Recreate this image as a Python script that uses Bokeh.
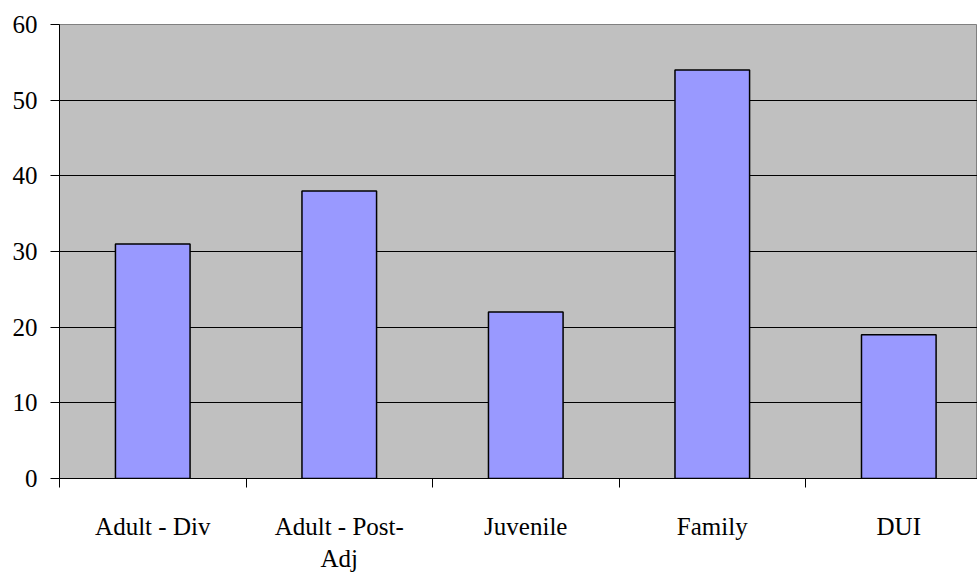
from bokeh.plotting import figure
from bokeh.models import Range1d, FixedTicker, ColumnDataSource
from bokeh.embed import file_html
from bokeh.resources import INLINE

categories = ["Adult - Div", "Adult - Post-\nAdj", "Juvenile", "Family", "DUI"]
values = [31, 38, 22, 54, 19]
y_ticks = [0, 10, 20, 30, 40, 50, 60]

n = len(categories)
centers = [i + 0.5 for i in range(n)]
src = ColumnDataSource(dict(x=centers, top=values))

FONT = "Liberation Serif"

p = figure(width=977, height=577, output_backend="svg", toolbar_location=None,
           x_range=Range1d(0, 4.922), y_range=Range1d(0, 60))
p.min_border_left = 59
p.min_border_right = 0
p.min_border_top = 24
p.min_border_bottom = 99
p.background_fill_color = "#C0C0C0"
p.outline_line_color = "#808080"

p.vbar(x="x", top="top", width=0.4, source=src, fill_color="#9999FF",
       line_color="black", line_width=1.5)

# y axis (default ticker gives 0..60 by 10)
p.yaxis.major_label_text_font = FONT
p.yaxis.major_label_text_font_size = "25px"
p.yaxis.minor_tick_in = 0
p.yaxis.minor_tick_out = 0
p.yaxis.major_tick_in = 0
p.yaxis.major_tick_out = 9
p.yaxis.major_label_standoff = 13
p.yaxis.major_label_text_color = "black"

# x axis: labels at category centres, ticks at category boundaries
p.xaxis.major_label_text_font = FONT
p.xaxis.major_label_text_font_size = "25px"
p.xaxis.ticker = FixedTicker(ticks=centers, minor_ticks=list(range(n + 1)))
p.xaxis.major_label_overrides = {c: lab for c, lab in zip(centers, categories)}
p.xaxis.major_tick_in = 0
p.xaxis.major_tick_out = 0
p.xaxis.minor_tick_in = 0
p.xaxis.minor_tick_out = 9
p.xaxis.major_label_standoff = 25
p.xaxis.major_label_text_color = "black"

p.xgrid.grid_line_color = None
p.ygrid.ticker = FixedTicker(ticks=y_ticks)
p.ygrid.grid_line_color = "#000000"
p.ygrid.grid_line_width = 1

open("out.html", "w").write(file_html(p, INLINE))
